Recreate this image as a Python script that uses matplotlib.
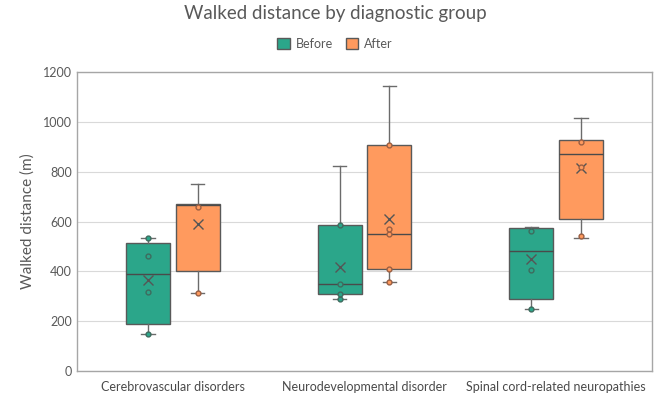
import matplotlib
matplotlib.use("Agg")
import matplotlib.pyplot as plt
from matplotlib.patches import Patch

plt.rcParams['font.family'] = ['Lato', 'DejaVu Sans']

# Daten
groups = ["Cerebrovascular disorders", "Neurodevelopmental disorder",
          "Spinal cord-related neuropathies"]
series = ["Before", "After"]

# Boxplot-Kennwerte je Gruppe: [Before, After]
whislo = [[147, 312], [289, 356], [249, 533]]
q1 = [[190, 401], [309, 409], [288, 610]]
med = [[389, 665], [348, 550], [482, 871]]
q3 = [[515, 670], [585, 906], [574, 927]]
whishi = [[534, 749], [824, 1144], [577, 1015]]
means = [[365, 589], [417, 611], [448, 813]]

# einzelne Punkte (innere Punkte)
points = [
    [[147, 318, 461, 534], [312, 659]],
    [[289, 309, 348, 585], [356, 409, 548, 569, 906]],
    [[249, 404, 562], [540, 820, 919]],
]

fill_colors = ["#2BA68A", "#FF9A5E"]
edge_colors = ["#3E6B5E", "#9A5E42"]
offsets = [-0.13, 0.13]

fig = plt.figure(figsize=(6.62, 3.96), dpi=100)
ax = fig.add_axes([0.1163, 0.0631, 0.8687, 0.7551])

for s in range(2):
    stats = []
    pos = []
    for g in range(3):
        stats.append(dict(whislo=whislo[g][s], q1=q1[g][s], med=med[g][s],
                          q3=q3[g][s], whishi=whishi[g][s], mean=means[g][s],
                          fliers=[]))
        pos.append(g + 1 + offsets[s])
    ax.bxp(stats, positions=pos, widths=0.23, patch_artist=True, showmeans=True,
           showfliers=False,
           boxprops=dict(facecolor=fill_colors[s], edgecolor="#595959", linewidth=1.0),
           medianprops=dict(color="#4a4a4a", linewidth=1.0),
           whiskerprops=dict(color="#6b6b6b", linewidth=1.0),
           capprops=dict(color="#6b6b6b", linewidth=1.0),
           capwidths=0.07,
           meanprops=dict(marker="x", markeredgecolor="#555555", markersize=7,
                          markeredgewidth=1.0))
    for g in range(3):
        ys = points[g][s]
        ax.plot([g + 1 + offsets[s]] * len(ys), ys, "o", markersize=3.5,
                markerfacecolor=fill_colors[s], markeredgecolor=edge_colors[s],
                markeredgewidth=1.0, zorder=4)

ax.set_xlim(0.5, 3.5)
ax.set_ylim(0, 1200)
ax.set_yticks(range(0, 1201, 200))
ax.set_xticks([1, 2, 3])
ax.set_xticklabels(groups, fontsize=9, color="#4a4a4a")
ax.tick_params(axis="y", labelsize=9, colors="#595959", length=0)
ax.tick_params(axis="x", length=0, pad=7)
ax.grid(axis="y", color="#d9d9d9", linewidth=0.8)
ax.set_axisbelow(True)
for sp in ax.spines.values():
    sp.set_color("#a6a6a6")
    sp.set_linewidth(1.0)

ax.set_ylabel("Walked distance (m)", fontsize=11, color="#595959", labelpad=6)

fig.text(0.506, 0.965, "Walked distance by diagnostic group", ha="center", va="center",
         fontsize=13.5, color="#595959")

handles = [Patch(facecolor=fill_colors[i], edgecolor="#595959", label=series[i])
           for i in range(2)]
fig.legend(handles=handles, loc="center", bbox_to_anchor=(0.506, 0.889), ncol=2,
           frameon=False, fontsize=9, handlelength=1.0, handleheight=1.0,
           columnspacing=1.0, handletextpad=0.5, labelcolor="#595959")

fig.savefig("out.png", dpi=100)
